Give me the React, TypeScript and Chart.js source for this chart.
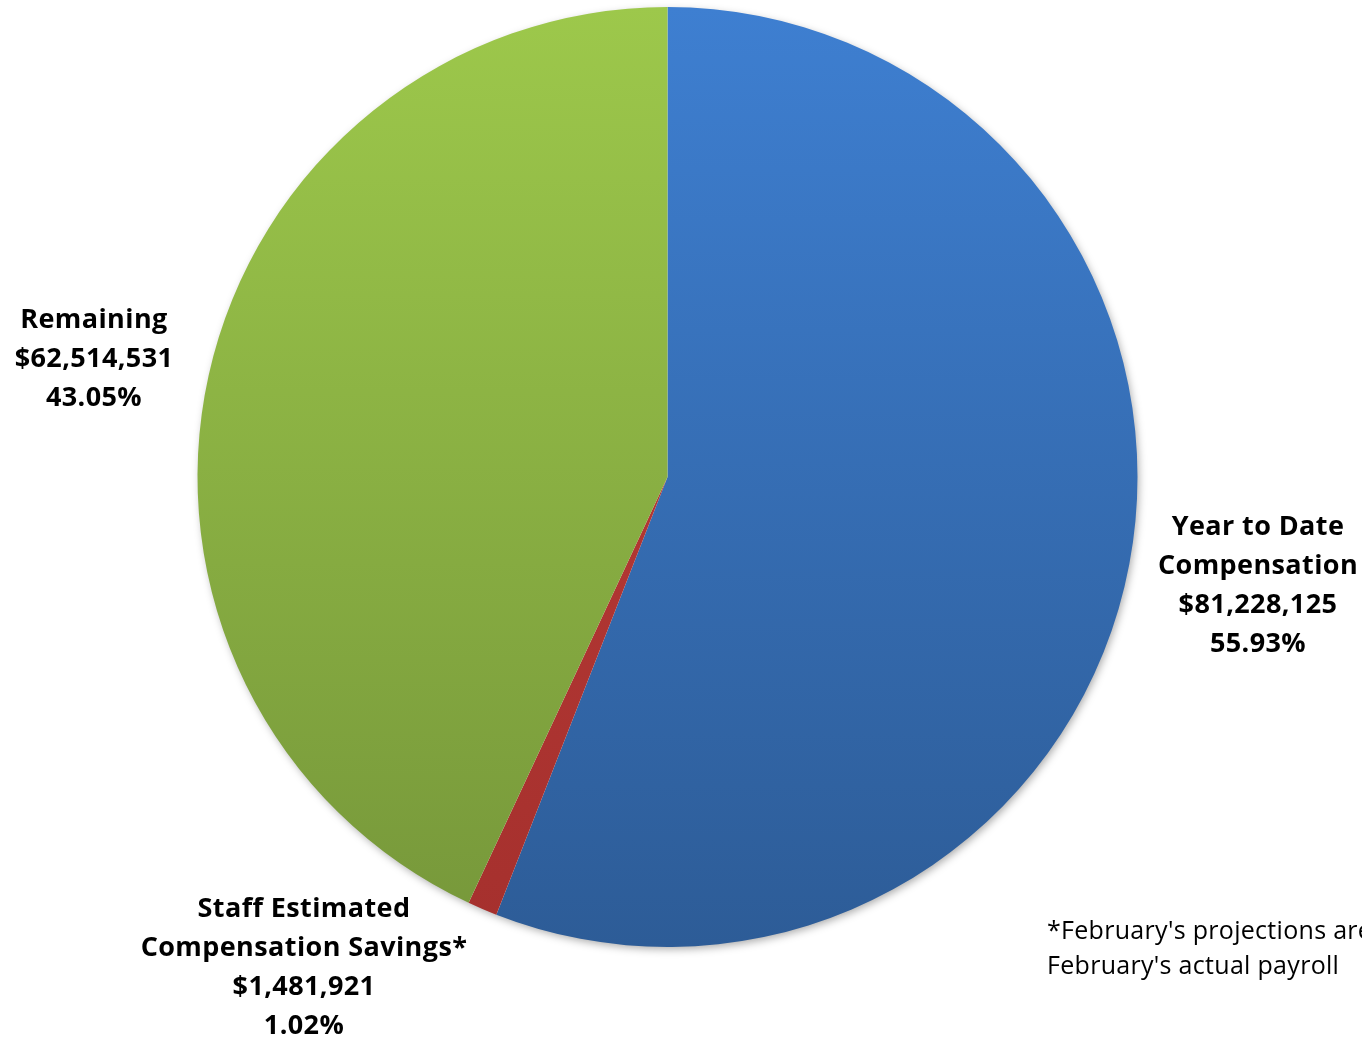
import React, { useEffect, useRef } from "react";
import { Chart, registerables } from "chart.js";

Chart.register(...registerables);

const categories = ["Year to Date Compensation", "Staff Estimated Compensation Savings*", "Remaining"];
const amounts = [81228125, 1481921, 62514531];
const percents = ["55.93%", "1.02%", "43.05%"];
const labelLines = [["Year to Date", "Compensation"], ["Staff Estimated", "Compensation Savings*"], ["Remaining"]];
const footnote = ["*February's projections are", "February's actual payroll"];
const topColors = ["#3E7FD1", "#C03E3A", "#9DC84B"];
const bottomColors = ["#2D5C97", "#A5302D", "#76973A"];

const fmt = (v: number) => "$" + v.toLocaleString("en-US");

const labelPos = [
  { left: 1258, top: 505 },
  { left: 304, top: 887 },
  { left: 94, top: 298 },
];

export default function App() {
  const ref = useRef<HTMLCanvasElement | null>(null);
  useEffect(() => {
    const prevMargin = document.body.style.margin;
    document.body.style.margin = "0";
    const canvas = ref.current!;
    const shadowPlugin = {
      id: "pieShadow",
      beforeDatasetsDraw(chart: any) {
        const meta = chart.getDatasetMeta(0);
        const arc = meta.data[0];
        if (!arc) return;
        const { x, y, outerRadius } = arc.getProps(["x", "y", "outerRadius"], true);
        const ctx = chart.ctx;
        ctx.save();
        ctx.shadowColor = "rgba(0,0,0,0.35)";
        ctx.shadowBlur = 8;
        ctx.shadowOffsetX = 2;
        ctx.shadowOffsetY = 3;
        ctx.fillStyle = "#ffffff";
        ctx.beginPath();
        ctx.arc(x, y, outerRadius - 1, 0, Math.PI * 2);
        ctx.fill();
        ctx.restore();
      },
    };
    const chart = new Chart(canvas, {
      type: "pie",
      data: {
        labels: categories,
        datasets: [
          {
            data: amounts,
            borderWidth: 0,
            backgroundColor: (c: any) => {
              const area = c.chart.chartArea;
              if (!area) return topColors[c.dataIndex];
              const g = c.chart.ctx.createLinearGradient(0, area.top, 0, area.bottom);
              g.addColorStop(0, topColors[c.dataIndex]);
              g.addColorStop(1, bottomColors[c.dataIndex]);
              return g;
            },
          },
        ],
      },
      options: {
        responsive: false,
        animation: false,
        layout: { padding: { left: 197, right: 224, top: 7, bottom: 91 } },
        plugins: { legend: { display: false }, tooltip: { enabled: false } },
      },
      plugins: [shadowPlugin],
    });
    return () => {
      chart.destroy();
      document.body.style.margin = prevMargin;
    };
  }, []);

  const boldStyle: React.CSSProperties = {
    position: "absolute",
    transform: "translateX(-50%)",
    textAlign: "center",
    fontFamily: "'Open Sans', sans-serif",
    fontWeight: 700,
    fontSize: 27,
    letterSpacing: "0.4px",
    lineHeight: "39px",
    whiteSpace: "nowrap",
    color: "#000",
  };

  return (
    <div style={{ position: "relative", width: 1362, height: 1038, overflow: "hidden", background: "#fff" }}>
      <canvas ref={ref} width={1362} height={1038} style={{ position: "absolute", left: 0, top: 0 }} />
      {categories.map((c, i) => (
        <div key={c} style={{ ...boldStyle, left: labelPos[i].left, top: labelPos[i].top }}>
          {labelLines[i].map((l) => (
            <div key={l}>{l}</div>
          ))}
          <div>{fmt(amounts[i])}</div>
          <div>{percents[i]}</div>
        </div>
      ))}
      <div
        style={{
          position: "absolute",
          left: 1047,
          top: 912,
          fontFamily: "'Open Sans', sans-serif",
          fontSize: 25,
          letterSpacing: "0.3px",
          lineHeight: "35px",
          whiteSpace: "nowrap",
          color: "#000",
        }}
      >
        {footnote.map((l) => (
          <div key={l}>{l}</div>
        ))}
      </div>
    </div>
  );
}
